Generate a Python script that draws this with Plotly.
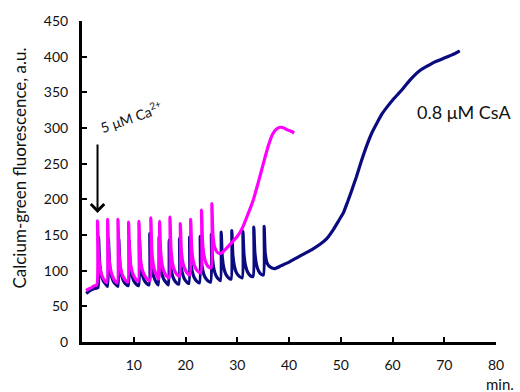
import plotly.graph_objects as go

# Control (no CsA) trace, magenta: time (min), fluorescence (a.u.)
ctrl_t = [0.8, 1.2, 1.8, 2.4, 2.85,
          3.0, 3.2, 3.5, 3.9, 4.4, 4.8,
          4.95, 5.15, 5.45, 5.85, 6.35, 6.8,
          6.95, 7.15, 7.45, 7.85, 8.35, 8.85,
          9.0, 9.2, 9.5, 9.9, 10.4, 10.85,
          11.0, 11.2, 11.5, 11.9, 12.5, 13.15,
          13.3, 13.5, 13.8, 14.2, 14.6, 14.85,
          15.0, 15.2, 15.5, 15.9, 16.4, 16.85,
          17.0, 17.2, 17.5, 17.9, 18.4, 18.85,
          19.0, 19.2, 19.5, 19.9, 20.4, 20.85,
          21.0, 21.2, 21.5, 21.9, 22.4, 22.95,
          23.1, 23.3, 23.6, 24.0, 24.5, 24.95,
          25.1, 25.3, 25.6, 26.0, 26.5,
          27.0, 28.0, 29.0, 30.0, 31.0, 32.0, 33.0, 34.0, 35.0, 36.0,
          36.8, 37.5, 38.3, 39.0, 39.8, 40.5, 41.0]
ctrl_v = [72, 74, 76, 79, 80,
          170, 125, 103, 92, 86, 83,
          172, 126, 104, 93, 86, 83,
          172, 126, 104, 93, 87, 84,
          168, 125, 104, 94, 88, 85,
          169, 126, 106, 96, 89, 86,
          174, 128, 107, 97, 91, 88,
          169, 127, 108, 98, 92, 90,
          175, 130, 110, 100, 94, 92,
          166, 128, 111, 102, 96, 94,
          172, 132, 113, 104, 99, 97,
          185, 140, 120, 110, 105, 104,
          194, 150, 134, 127, 124,
          125, 132, 140, 148, 160, 178, 197, 222, 249, 275,
          291, 298, 301, 300, 297, 295, 293]

# 0.8 uM CsA trace, navy
csa_t = [0.8, 1.5, 2.4, 3.05,
         3.2, 3.4, 3.7, 4.1, 4.6, 4.95,
         5.1, 5.3, 5.6, 6.0, 6.5, 6.95,
         7.1, 7.3, 7.6, 8.0, 8.5, 8.95,
         9.1, 9.3, 9.6, 10.0, 10.5, 10.95,
         11.1, 11.3, 11.6, 12.0, 12.5, 12.95,
         13.1, 13.3, 13.6, 14.0, 14.4, 14.75,
         14.9, 15.1, 15.4, 15.8, 16.3, 16.7,
         16.85, 17.05, 17.35, 17.75, 18.25, 18.7,
         18.85, 19.05, 19.35, 19.75, 20.25, 20.65,
         20.8, 21.0, 21.3, 21.7, 22.2, 22.7,
         22.85, 23.05, 23.35, 23.75, 24.3, 24.85,
         25.0, 25.2, 25.5, 25.9, 26.4, 26.75,
         26.9, 27.1, 27.4, 27.8, 28.3, 28.8,
         28.95, 29.15, 29.45, 29.85, 30.4, 30.95,
         31.1, 31.3, 31.6, 32.0, 32.5, 33.05,
         33.2, 33.4, 33.7, 34.1, 34.6, 35.05,
         35.2, 35.4, 35.8, 36.4, 37.3, 38.5, 40.0, 41.5, 43.0, 44.5,
         46.0, 47.3, 48.6, 49.6, 50.5, 51.3, 52.0, 53.0, 54.0, 55.0,
         56.0, 57.0, 58.0, 59.0, 60.0, 61.0, 62.0, 63.0, 64.0, 65.0,
         66.0, 67.0, 68.0, 69.0, 70.0, 71.0, 72.0, 73.0]
csa_v = [68, 72, 75, 76,
         147, 112, 95, 86, 81, 78,
         145, 112, 95, 86, 81, 78,
         145, 112, 95, 86, 81, 79,
         143, 111, 95, 86, 81, 79,
         145, 112, 96, 87, 82, 80,
         152, 115, 98, 89, 83, 80,
         148, 114, 97, 88, 83, 80,
         143, 112, 97, 88, 83, 81,
         145, 113, 98, 89, 84, 82,
         147, 115, 99, 90, 85, 83,
         148, 116, 100, 91, 86, 84,
         151, 118, 102, 93, 88, 86,
         154, 120, 104, 95, 90, 88,
         156, 122, 106, 97, 92, 90,
         155, 123, 107, 98, 93, 92,
         161, 126, 109, 100, 95, 94,
         162, 125, 110, 105, 103, 107, 112, 118, 124, 130,
         137, 145, 158, 170, 181, 196, 210, 231, 254, 275,
         293, 307, 320, 330, 339, 347, 355, 364, 372, 379,
         384, 388, 392, 395, 398, 401, 404, 408]

x_ticks = [10, 20, 30, 40, 50, 60, 70, 80]
y_ticks = [0, 50, 100, 150, 200, 250, 300, 350, 400, 450]

FONT = "Lato"

fig = go.Figure()
fig.add_trace(go.Scatter(x=csa_t, y=csa_v, mode="lines",
                         line=dict(color="#0b0b80", width=3.2, shape="spline", smoothing=0.6),
                         name="0.8 μM CsA"))
fig.add_trace(go.Scatter(x=ctrl_t, y=ctrl_v, mode="lines",
                         line=dict(color="#ff00ff", width=3.2, shape="spline", smoothing=0.6),
                         name="control"))

axis_common = dict(showline=True, linecolor="black", linewidth=3,
                   ticks="inside", tickcolor="black", tickwidth=2, ticklen=5,
                   showgrid=False, zeroline=False,
                   tickfont=dict(family=FONT, size=14, color="#111"))

fig.update_xaxes(range=[0, 80], tickvals=x_ticks, ticklabelstandoff=8, **axis_common)
fig.update_yaxes(range=[0, 450], tickvals=y_ticks, ticklabelstandoff=8, **axis_common)

fig.add_annotation(x=3, y=181, ax=3, ay=279, xref="x", yref="y", axref="x", ayref="y",
                   text="", showarrow=True, arrowhead=4, arrowsize=1.3,
                   arrowwidth=2, arrowcolor="black")
fig.add_annotation(x=9.6, y=316, xref="x", yref="y", text="5 μM Ca<sup>2+</sup>",
                   showarrow=False, textangle=-19,
                   font=dict(family=FONT, size=14, color="#111"))
fig.add_annotation(x=74.0, y=323, xref="x", yref="y", text="0.8 μM CsA",
                   showarrow=False, font=dict(family=FONT, size=18, color="#111"))
fig.add_annotation(x=-0.15, y=0.543, xref="paper", yref="paper",
                   text="Calcium-green fluorescence, a.u.", showarrow=False,
                   textangle=-90, xanchor="center", yanchor="middle",
                   font=dict(family=FONT, size=17, color="#111"))
fig.add_annotation(x=1.0097, y=-0.13, xref="paper", yref="paper", text="min.",
                   showarrow=False, xanchor="center", yanchor="middle",
                   font=dict(family=FONT, size=15, color="#111"))

fig.update_layout(width=520, height=392, margin=dict(l=82, r=24, t=19, b=50),
                  paper_bgcolor="white", plot_bgcolor="white", showlegend=False)

fig.write_html("out.html")
